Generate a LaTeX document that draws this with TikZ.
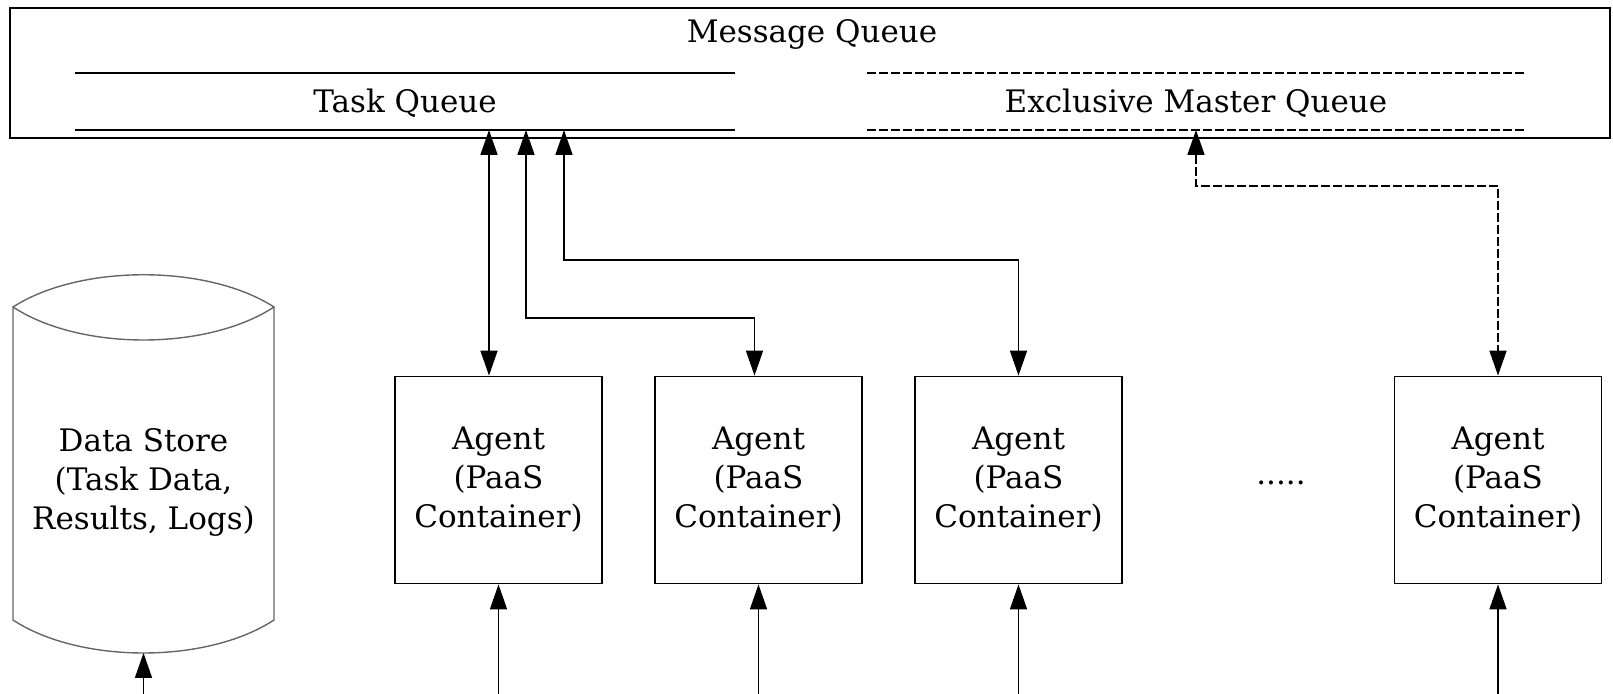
\documentclass[tikz,border=0pt]{standalone}
\usepackage{fontspec}
\setmainfont{DejaVu Serif}
\usetikzlibrary{arrows.meta,positioning}

\begin{document}
\begin{tikzpicture}[x=0.5pt,y=-0.5pt,
        every node/.style={font=\fontsize{15.5}{19.5}\selectfont},
        agent/.style={draw, line width=0.9pt, minimum width=103.5pt, minimum height=103.5pt, align=center, inner sep=0pt},
        link/.style={line width=0.85pt, -{Triangle[length=12.5pt,width=8.5pt]}},
        both/.style={line width=0.85pt, {Triangle[length=12.5pt,width=8.5pt]}-{Triangle[length=12.5pt,width=8.5pt]}},
        lane/.style={line width=0.9pt},
        dashlane/.style={line width=0.75pt, dash pattern=on 4.5pt off 1.5pt},
        store/.style={draw=black!60, line width=0.7pt}]
    \useasboundingbox (0,0) rectangle (1613,694);

    % message queue and its two lanes
    \node[draw, line width=0.9pt, minimum width=800pt, minimum height=65pt, inner sep=0pt] (mq) at (810,73) {};
    \node (mqlabel) at (812,34) {Message Queue};
    \node (tq) at (405,103) {Task Queue};
    \node (emq) at (1196,103) {Exclusive Master Queue};
    \draw[lane] (75,73) -- (735,73) (75,130) -- (735,130);
    \draw[dashlane] (867,73) -- (1525,73) (867,130) -- (1525,130);
    \coordinate (t1) at (489,130);
    \coordinate (t2) at (526,130);
    \coordinate (t3) at (564,130);
    \coordinate (t4) at (1196,130);

    % data store
    \draw[store] (13,307) .. controls (80,264) and (207,264) .. (274,307)
        .. controls (207,351) and (80,351) .. (13,307) -- (13,620)
        .. controls (80,664) and (207,664) .. (274,620) -- (274,307);
    \node[align=center] (ds) at (143.5,482) {Data Store\\(Task Data,\\Results, Logs)};
    \coordinate (dsbase) at (143.5,653);

    % agents
    \node[agent] (a1) at (498.5,480) {Agent\\(PaaS\\Container)};
    \node[agent] (a2) at (758.5,480) {Agent\\(PaaS\\Container)};
    \node[agent] (a3) at (1018.5,480) {Agent\\(PaaS\\Container)};
    \node[agent] (a4) at (1498,480) {Agent\\(PaaS\\Container)};
    \node (dots) at (1281,483) {.....};

    % queue connections
    \draw[both] (t1) -- (t1 |- a1.north);
    \draw[both] (t2) -- ++(0,188) -| ([xshift=-2pt]a2.north);
    \draw[both] (t3) -- ++(0,130) -| (a3.north);
    \draw[both, dash pattern=on 4.5pt off 1.5pt] (t4) -- ++(0,56) -| (a4.north);

    % feed from below
    \coordinate (bus) at (0,694);
    \draw[gray!40] (dsbase |- bus) -- (a4.south |- bus);
    \draw[link] (dsbase |- bus) -- (dsbase);
    \foreach \a in {a1,a2,a3,a4}
        \draw[link] (\a.south |- bus) -- (\a.south);
\end{tikzpicture}
\end{document}
